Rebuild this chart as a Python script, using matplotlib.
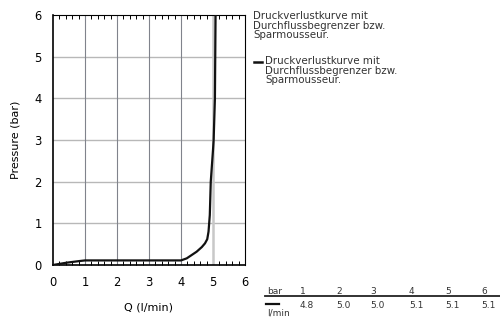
import numpy as np
import matplotlib.pyplot as plt
from matplotlib.ticker import MultipleLocator

# curve (Q in l/min, pressure in bar)
flow = [0.0, 0.42, 0.83, 1.0, 2.0, 3.0, 4.0, 4.18, 4.49, 4.65, 4.75, 4.82, 4.86, 4.9, 4.93, 5.0, 5.02, 5.06, 5.08]
pressure = [0.0, 0.055, 0.095, 0.11, 0.11, 0.11, 0.11, 0.16, 0.32, 0.43, 0.52, 0.62, 0.8, 1.2, 2.0, 2.76, 3.0, 4.0, 6.0]

legend_text = "Druckverlustkurve mit\nDurchflussbegrenzer bzw.\nSparmousseur."

# table under the legend
table_bar = ["1", "2", "3", "4", "5", "6"]
table_flow = ["4.8", "5.0", "5.0", "5.1", "5.1", "5.1"]

fig = plt.figure(figsize=(5, 3.17), dpi=100)
W, H = 500, 317
ax = fig.add_axes([53 / W, 1 - 265 / H, 192 / W, 250 / H])

ax.set_xlim(0, 6)
ax.set_ylim(0, 6)
ax.xaxis.set_major_locator(MultipleLocator(1))
ax.yaxis.set_major_locator(MultipleLocator(1))
ax.xaxis.set_minor_locator(MultipleLocator(0.2))

for v in range(1, 6):
    ax.axhline(v, color="#b8b8b8", lw=1.0, zorder=1)
for v in range(1, 5):
    ax.axvline(v, color="#80838c", lw=0.8, zorder=1)
ax.axvline(5, color="#c8c8c8", lw=1.8, zorder=1)

ax.plot(flow, pressure, color="#111111", lw=1.6, zorder=3)

ax.tick_params(axis="x", which="minor", direction="in", length=3, width=0.7,
               top=True, bottom=True)
ax.tick_params(axis="x", which="major", direction="in", length=0, labelsize=8.3, pad=8)
ax.tick_params(axis="y", which="major", direction="in", length=0, labelsize=8.3, pad=8)
for s in ax.spines.values():
    s.set_linewidth(0.8)
ax.spines["left"].set_linewidth(1.2)
ax.spines["bottom"].set_linewidth(1.2)

ax.set_xlabel("Q (l/min)", fontsize=8, labelpad=10)
ax.set_ylabel("Pressure (bar)", fontsize=8, labelpad=10)

# legend-like text on the right
fs = 7.4
col = "#333333"
fig.text(253 / W, 1 - 11 / H, legend_text, fontsize=fs, color=col, va="top",
         linespacing=0.95)
fig.text(265 / W, 1 - 56 / H, legend_text, fontsize=fs, color=col, va="top",
         linespacing=0.95)
fig.add_artist(plt.Line2D([254 / W, 262 / W], [1 - 62 / H, 1 - 62 / H],
                          color="#111111", lw=1.8))

# table at the bottom right
xs = [300, 336, 370, 409, 445, 481]
fig.text(267 / W, 1 - 291 / H, "bar", fontsize=6.5, color=col, va="center")
for x, b, q in zip(xs, table_bar, table_flow):
    fig.text(x / W, 1 - 291 / H, b, fontsize=6.5, color=col, va="center")
    fig.text(x / W, 1 - 305 / H, q, fontsize=6.5, color=col, va="center")
fig.add_artist(plt.Line2D([265 / W, 1.0], [1 - 296 / H, 1 - 296 / H],
                          color="#222222", lw=1.3))
fig.add_artist(plt.Line2D([266 / W, 279 / W], [1 - 304 / H, 1 - 304 / H],
                          color="#111111", lw=1.6))
fig.text(267 / W, 1 - 313 / H, "l/min", fontsize=6.5, color=col, va="center")

fig.savefig("out.png", dpi=100)
